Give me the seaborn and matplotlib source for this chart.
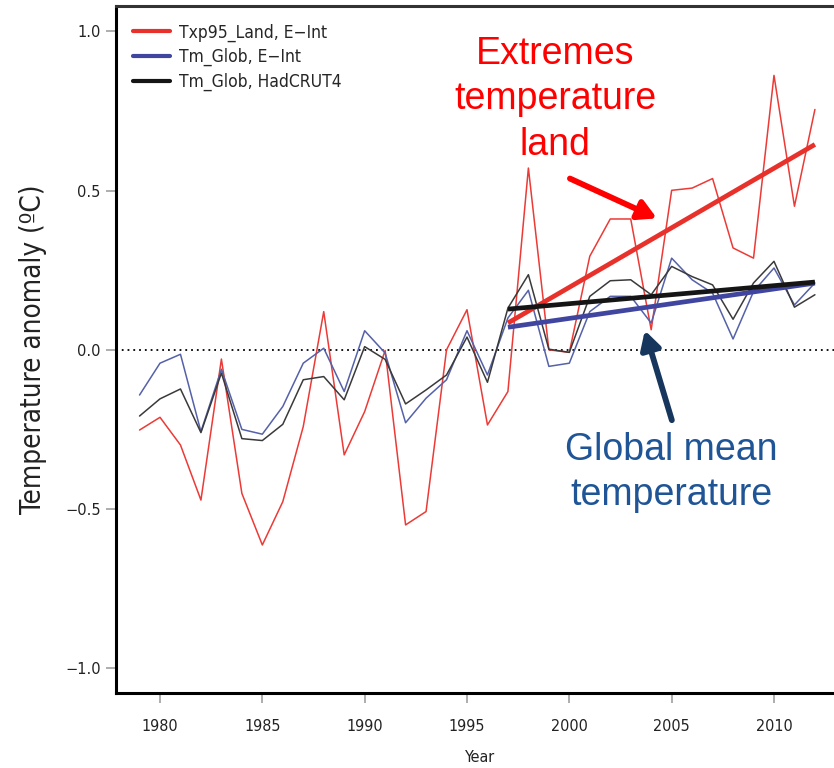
import matplotlib
matplotlib.use("Agg")
import matplotlib.pyplot as plt
from matplotlib.lines import Line2D
import seaborn as sns
import pandas as pd

# Annual temperature anomalies (degC)
years = list(range(1979, 2013))

txp95_land_eint = [
    -0.252, -0.212, -0.299, -0.472, -0.029, -0.451, -0.613, -0.477, -0.241, 0.120,
    -0.330, -0.194, -0.002, -0.550, -0.508, 0.000, 0.126, -0.236, -0.131, 0.571,
    0.000, -0.008, 0.294, 0.411, 0.411, 0.063, 0.501, 0.508, 0.538, 0.320,
    0.288, 0.862, 0.451, 0.755,
]
tm_glob_eint = [
    -0.142, -0.042, -0.014, -0.257, -0.061, -0.250, -0.265, -0.178, -0.042, 0.005,
    -0.131, 0.060, -0.010, -0.229, -0.152, -0.094, 0.060, -0.079, 0.100, 0.187,
    -0.052, -0.042, 0.120, 0.168, 0.168, 0.084, 0.288, 0.220, 0.178, 0.034,
    0.183, 0.257, 0.141, 0.210,
]
tm_glob_hadcrut4 = [
    -0.208, -0.154, -0.123, -0.260, -0.073, -0.279, -0.285, -0.234, -0.094, -0.084,
    -0.157, 0.010, -0.030, -0.170, -0.126, -0.079, 0.040, -0.102, 0.131, 0.236,
    0.002, -0.008, 0.168, 0.217, 0.220, 0.173, 0.262, 0.230, 0.204, 0.096,
    0.210, 0.278, 0.134, 0.173,
]

series_names = ["Txp95_Land, E\u2212Int", "Tm_Glob, E\u2212Int", "Tm_Glob, HadCRUT4"]
series_values = [txp95_land_eint, tm_glob_eint, tm_glob_hadcrut4]
trend_start = 1997

line_colors = ["#ec3a36", "#5561a8", "#3a3a3a"]
trend_colors = ["#e8312b", "#4046a0", "#151515"]

y_ticks = [-1.0, -0.5, 0.0, 0.5, 1.0]
x_ticks = [1980, 1985, 1990, 1995, 2000, 2005, 2010]

sns.set_theme(style="white")
plt.rcParams["font.family"] = ["DejaVu Sans"]
plt.rcParams["font.stretch"] = "condensed"

df = pd.DataFrame({
    "Year": years * len(series_names),
    "Anomaly": [v for vals in series_values for v in vals],
    "Series": [n for n, vals in zip(series_names, series_values) for _ in vals],
})

fig = plt.figure(figsize=(8.34, 7.68), dpi=100)
ax = fig.add_axes([116 / 834, 75 / 768, (845 - 116) / 834, 687 / 768])

# zero reference
ax.axhline(0, color="black", lw=1.3, ls=(0, (1, 2.2)), zorder=1)

# annual series
sns.lineplot(data=df, x="Year", y="Anomaly", hue="Series",
             palette=dict(zip(series_names, line_colors)),
             linewidth=1.1, legend=False, ax=ax, zorder=2)

# linear trends since 1997
for name, col in zip(series_names, trend_colors):
    sub = df[(df["Series"] == name) & (df["Year"] >= trend_start)]
    sns.regplot(data=sub, x="Year", y="Anomaly", scatter=False, ci=None,
                truncate=True, ax=ax,
                line_kws=dict(color=col, lw=3.4, solid_capstyle="butt", zorder=3))

ax.set_xlim(1977.85, 2013.47)
ax.set_ylim(-1.078, 1.08)
ax.set_xticks(x_ticks)
ax.set_xticklabels([str(t) for t in x_ticks], fontsize=11.5, color="#222222")
ax.set_yticks(y_ticks)
ax.set_yticklabels([f"{t:.1f}".replace("-", "\u2212") for t in y_ticks],
                   fontsize=10.5, color="#222222", fontstretch="normal")
ax.tick_params(axis="both", which="both", direction="out", length=7, width=1.2,
               color="#a0a0a0", bottom=True, left=True)
ax.tick_params(axis="y", pad=4)
ax.tick_params(axis="x", pad=12)

for side in ["left", "bottom", "top", "right"]:
    ax.spines[side].set_color("black")
    ax.spines[side].set_linewidth(2.2)
ax.spines["top"].set_color("#333333")

ax.set_xlabel("Year", fontsize=11.5, labelpad=11, color="#222222")
ax.set_ylabel("Temperature anomaly (\u00baC)", fontsize=20, labelpad=13, color="#222222")

handles = [Line2D([0], [0], color=c, lw=3.0) for c in trend_colors]
ax.legend(handles, series_names, loc="upper left", bbox_to_anchor=(0.0, 1.0),
          frameon=False, fontsize=12.5, handlelength=2.1, handletextpad=0.55,
          labelspacing=0.38, borderaxespad=0.6)

# callouts
ax.text(1999.3, 0.787, "Extremes\ntemperature\nland", color="#ff0000", fontsize=27,
        family=["Liberation Sans"], fontstretch="normal", ha="center", va="center",
        linespacing=1.33)
ax.annotate("", xy=(2004.28, 0.413), xytext=(2000.03, 0.538),
            arrowprops=dict(arrowstyle="-|>,head_length=0.9,head_width=0.5",
                            color="#ff0000", lw=4.2, shrinkA=0, shrinkB=0))
ax.text(2005.0, -0.385, "Global mean\ntemperature", color="#1f5596", fontsize=27,
        family=["Liberation Sans"], fontstretch="normal", ha="center", va="center",
        linespacing=1.33)
ax.annotate("", xy=(2003.69, 0.061), xytext=(2005.01, -0.221),
            arrowprops=dict(arrowstyle="-|>,head_length=0.9,head_width=0.5",
                            color="#17365d", lw=4.2, shrinkA=0, shrinkB=0))

fig.savefig("out.png", dpi=100)
